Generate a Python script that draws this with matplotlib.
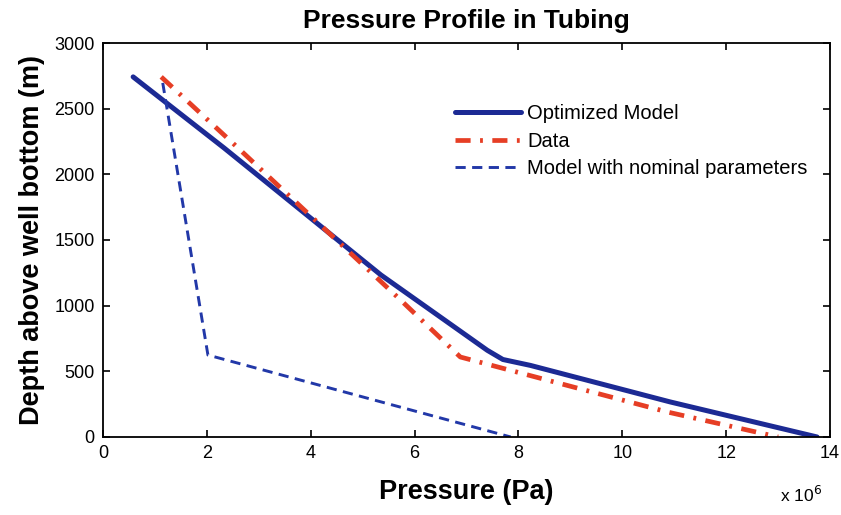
import matplotlib
matplotlib.use('Agg')
import matplotlib.pyplot as plt
from matplotlib.ticker import FuncFormatter

plt.rcParams['font.family'] = ['Liberation Sans', 'DejaVu Sans']

# pressure in Pa, depth above well bottom in m
opt_p = [0.58e6, 2.33e6, 5.35e6, 6.9e6, 7.4e6, 7.7e6, 8.23e6, 10.92e6, 13.75e6]
opt_d = [2742, 2201, 1234, 800, 660, 590, 545, 267, 0]

data_p = [1.12e6, 2.52e6, 5.73e6, 6.88e6, 8.04e6, 10.87e6, 13.0e6]
data_d = [2742, 2230, 1043, 609, 487, 190, 0]

nom_p = [1.15e6, 2.02e6, 7.85e6]
nom_d = [2696, 624, 0]

labels = ['Optimized Model', 'Data', 'Model with nominal parameters']

fig = plt.figure(figsize=(8.41, 5.15), dpi=100)
ax = fig.add_axes([0.1225, 0.1515, 0.8645, 0.765])

ax.plot(opt_p, opt_d, color='#1c2a94', lw=3.6, label=labels[0],
        solid_capstyle='round', solid_joinstyle='round')
ax.plot(data_p, data_d, color='#e63e25', lw=3.4, linestyle=(0, (3.2, 2.0, 0.6, 2.0)),
        label=labels[1])
ax.plot(nom_p, nom_d, color='#2238a8', lw=2.1, linestyle=(0, (3.5, 2.2)),
        label=labels[2])

ax.set_xlim(0, 14e6)
ax.set_ylim(0, 3000)
ax.set_xticks([i * 2e6 for i in range(8)])
ax.set_yticks(range(0, 3001, 500))
ax.xaxis.set_major_formatter(FuncFormatter(lambda v, pos: '%g' % (v / 1e6)))
ax.tick_params(direction='in', top=True, right=True, length=5, width=1.2,
               labelsize=13, pad=6)
for s in ax.spines.values():
    s.set_linewidth(1.3)

ax.set_title('Pressure Profile in Tubing', fontsize=19, fontweight='bold', pad=11)
ax.set_xlabel('Pressure (Pa)', fontsize=19.5, fontweight='bold', labelpad=12)
ax.set_ylabel('Depth above well bottom (m)', fontsize=19.5, fontweight='bold', labelpad=7)
fig.text(0.928, 0.025, r'x 10$^6$', fontsize=12.5)

ax.legend(loc='upper left', bbox_to_anchor=(0.473, 0.865), frameon=False,
          fontsize=14.5, handlelength=3.3, handletextpad=0.3, labelspacing=0.42,
          borderaxespad=0)

fig.savefig('out.png', dpi=100)
